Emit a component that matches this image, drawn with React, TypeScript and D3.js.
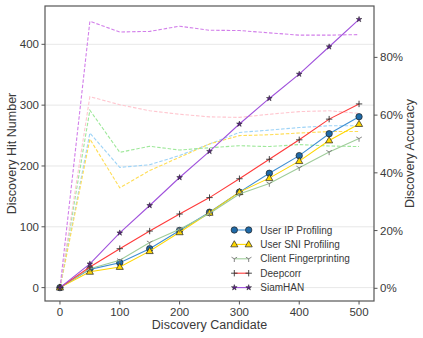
import React from "react";
import * as d3 from "d3";

// discovery candidates (x)
const candidates = [0, 50, 100, 150, 200, 250, 300, 350, 400, 450, 500];

// hit numbers (left axis, solid lines)
const ipHits = [0, 30, 41, 64, 94, 124, 157, 188, 217, 253, 281];
const sniHits = [0, 26, 34, 60, 91, 123, 157, 180, 208, 242, 269];
const clientHits = [0, 31, 45, 74, 96, 122, 154, 171, 197, 223, 245];
const deepcorrHits = [0, 34, 64, 93, 121, 148, 179, 211, 243, 277, 302];
const siamHits = [0, 39, 90, 135, 181, 224, 269, 311, 351, 396, 441];

// accuracy (right axis, dashed lines)
const ipAcc = [0, 0.538, 0.419, 0.428, 0.46, 0.5, 0.54, 0.548, 0.557, 0.563, 0.563];
const sniAcc = [0, 0.517, 0.348, 0.408, 0.454, 0.5, 0.529, 0.532, 0.538, 0.543, 0.543];
const clientAcc = [0, 0.617, 0.471, 0.492, 0.479, 0.487, 0.494, 0.491, 0.498, 0.493, 0.491];
const deepcorrAcc = [0, 0.664, 0.636, 0.615, 0.603, 0.594, 0.592, 0.603, 0.612, 0.615, 0.606];
const siamAcc = [0, 0.925, 0.888, 0.89, 0.908, 0.894, 0.893, 0.885, 0.877, 0.877, 0.879];

const xTicks = [0, 100, 200, 300, 400, 500];
const leftTicks = [0, 100, 200, 300, 400];
const rightTicks = [0, 0.2, 0.4, 0.6, 0.8];

const series = [
  { name: "User IP Profiling", hits: ipHits, acc: ipAcc, line: "#3f8fd2", dash: "#9dd3f7", marker: "circle", fill: "#1f6aa8" },
  { name: "User SNI Profiling", hits: sniHits, acc: sniAcc, line: "#ffd700", dash: "#ffdd55", marker: "triangle", fill: "#ffd700" },
  { name: "Client Fingerprinting", hits: clientHits, acc: clientAcc, line: "#9fcc9a", dash: "#9ee89a", marker: "tri", fill: "#777" },
  { name: "Deepcorr", hits: deepcorrHits, acc: deepcorrAcc, line: "#ff3b3b", dash: "#ffc6cf", marker: "plus", fill: "#333" },
  { name: "SiamHAN", hits: siamHits, acc: siamAcc, line: "#a052dc", dash: "#d27fea", marker: "star", fill: "#5a2088" },
];

const font = "'Liberation Sans', Arial, sans-serif";

function Marker({ type, x, y, fill }: { type: string; x: number; y: number; fill: string }) {
  if (type === "circle") {
    return <circle cx={x} cy={y} r={3.2} fill={fill} stroke="#222" strokeWidth={0.7} />;
  }
  if (type === "triangle") {
    const p = d3.symbol(d3.symbolTriangle, 22)();
    return <path d={p} transform={`translate(${x},${y + 0.4})`} fill={fill} stroke="#222" strokeWidth={0.7} />;
  }
  if (type === "star") {
    const p = d3.symbol(d3.symbolStar, 10)();
    return <path d={p} transform={`translate(${x},${y})`} fill={fill} stroke="#222" strokeWidth={0.5} />;
  }
  if (type === "plus") {
    const s = 3.2;
    return (
      <path d={`M${x - s},${y}H${x + s}M${x},${y - s}V${y + s}`} stroke={fill} strokeWidth={0.9} fill="none" />
    );
  }
  // tri_down "Y"
  const s = 3.2;
  return (
    <path
      d={`M${x},${y}V${y + s}M${x},${y}L${x - s * 0.87},${y - s * 0.5}M${x},${y}L${x + s * 0.87},${y - s * 0.5}`}
      stroke={fill}
      strokeWidth={0.9}
      fill="none"
    />
  );
}

export default function App() {
  const left = 45, right = 374, top = 6, bottom = 301;

  const x = d3.scaleLinear().domain([-25, 525]).range([left, right]);
  const yL = d3.scaleLinear().domain([-22, 463]).range([bottom, top]);
  const yR = d3.scaleLinear().domain([-0.044, 0.978]).range([bottom, top]);

  const hitLine = (vals: number[]) =>
    d3.line<number>().x((_, i) => x(candidates[i])).y((d) => yL(d))(vals) || "";
  const accLine = (vals: number[]) =>
    d3.line<number>().x((_, i) => x(candidates[i])).y((d) => yR(d))(vals) || "";

  const axisColor = "#555";
  const textColor = "#3a3a3a";

  return (
    <svg
      width={423}
      height={338}
      style={{ position: "absolute", left: 0, top: 0, background: "#fff" }}
      fontFamily={font}
    >
      <rect x={0} y={0} width={423} height={338} fill="#fff" />

      {/* grid */}
      {leftTicks.map((t) => (
        <line key={"g" + t} x1={left} x2={right} y1={yL(t)} y2={yL(t)} stroke="#e4e4e4" strokeWidth={0.9} />
      ))}

      {/* accuracy dashed lines */}
      {series.map((s) => (
        <path
          key={"a" + s.name}
          d={accLine(s.acc)}
          fill="none"
          stroke={s.dash}
          strokeWidth={1.1}
          strokeDasharray="3.5,1.8"
        />
      ))}

      {/* hit number lines */}
      {series.map((s) => (
        <g key={"h" + s.name}>
          <path d={hitLine(s.hits)} fill="none" stroke={s.line} strokeWidth={1.1} />
          {s.hits.map((v, i) => (
            <Marker key={i} type={s.marker} x={x(candidates[i])} y={yL(v)} fill={s.fill} />
          ))}
        </g>
      ))}

      {/* frame */}
      <rect x={left} y={top} width={right - left} height={bottom - top} fill="none" stroke={axisColor} strokeWidth={1.2} />

      {/* x ticks */}
      {xTicks.map((t) => (
        <g key={"x" + t}>
          <line x1={x(t)} x2={x(t)} y1={bottom} y2={bottom + 3.5} stroke={axisColor} />
          <text x={x(t)} y={316} textAnchor="middle" fontSize={11.5} fill={textColor}>
            {t}
          </text>
        </g>
      ))}

      {/* left ticks */}
      {leftTicks.map((t) => (
        <g key={"l" + t}>
          <line x1={left - 3.5} x2={left} y1={yL(t)} y2={yL(t)} stroke={axisColor} />
          <text x={39} y={yL(t)} dy="0.35em" textAnchor="end" fontSize={11.5} fill={textColor}>
            {t}
          </text>
        </g>
      ))}

      {/* right ticks */}
      {rightTicks.map((t) => (
        <g key={"r" + t}>
          <line x1={right} x2={right + 3.5} y1={yR(t)} y2={yR(t)} stroke={axisColor} />
          <text x={380} y={yR(t)} dy="0.35em" textAnchor="start" fontSize={11.5} fill={textColor}>
            {d3.format(".0%")(t)}
          </text>
        </g>
      ))}

      {/* axis labels */}
      <text x={209.5} y={325} dy="0.35em" textAnchor="middle" fontSize={12.5} fill={textColor}>
        Discovery Candidate
      </text>
      <text
        transform={`translate(12,${(top + bottom) / 2}) rotate(-90)`}
        dy="0.35em"
        textAnchor="middle"
        fontSize={12.5}
        fill={textColor}
      >
        Discovery Hit Number
      </text>
      <text
        transform={`translate(410,${(top + bottom) / 2}) rotate(-90)`}
        dy="0.35em"
        textAnchor="middle"
        fontSize={12.5}
        fill={textColor}
      >
        Discovery Accuracy
      </text>

      {/* legend */}
      {series.map((s, i) => {
        const ly = 230 + i * 14.4;
        return (
          <g key={"lg" + s.name}>
            <line x1={234.3} x2={248.7} y1={ly} y2={ly} stroke={s.line} strokeWidth={1.1} />
            <Marker type={s.marker} x={234.3} y={ly} fill={s.fill} />
            <Marker type={s.marker} x={248.7} y={ly} fill={s.fill} />
            <text x={260.3} y={ly} dy="0.35em" fontSize={10} fill={textColor}>
              {s.name}
            </text>
          </g>
        );
      })}
    </svg>
  );
}
